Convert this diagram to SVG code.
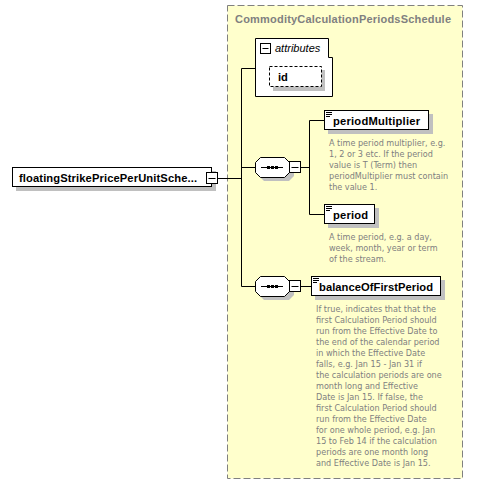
<svg xmlns="http://www.w3.org/2000/svg" width="504" height="485" viewBox="0 0 504 485">
<style>
.name{font-family:"Liberation Sans",Arial,sans-serif;font-weight:bold;font-size:11.2px;fill:#000}
.desc{font-family:"DejaVu Sans Condensed","DejaVu Sans",sans-serif;font-size:9px;fill:#808080}
.box{fill:#fff;stroke:#000;stroke-width:1}
.shadow{fill:#c0c0c0}
.ln{stroke:#000;stroke-width:1;fill:none}
</style>
<rect width="504" height="485" fill="#fff"/>
<g id="CommodityCalculationPeriodsSchedule">
<rect x="227.5" y="5.5" width="235" height="473" fill="#ffffcc" stroke="#808080" stroke-dasharray="7,3"/>
<text x="235" y="23" font-family="Liberation Sans,Arial,sans-serif" font-weight="bold" font-size="11" fill="#808080" textLength="216">CommodityCalculationPeriodsSchedule</text>
</g>
<g id="connectors">
<path class="ln" d="M217.5,178.5H241.5M241.5,68.5V286.5M241.5,68.5H255.5M241.5,167.5H255.5M241.5,286.5H255.5M301,167.5H309.5M309.5,120.5V214.5M309.5,120.5H324M309.5,214.5H324M301,286.5H311"/>
</g>
<g id="attributes">
<path d="M255.5,38.5H328.5V57.5H332.5V96.5H255.5Z" class="box"/>
<rect x="260.5" y="43.5" width="10" height="10" class="box"/>
<path class="ln" d="M262.5,48.5H268.5"/>
<text x="275" y="52" font-family="Liberation Sans,Arial,sans-serif" font-style="italic" font-size="11">attributes</text>
</g>
<g id="id">
<rect x="273" y="70" width="52" height="21" class="shadow"/>
<rect x="269.5" y="66.5" width="52" height="20" fill="#fff" stroke="#000" stroke-dasharray="3,2"/>
<text x="278" y="81" class="name">id</text>
</g>
<g id="floatingStrikePricePerUnitSchedule">
<rect x="16" y="171" width="200" height="20" class="shadow"/>
<rect x="12.5" y="167.5" width="199" height="19" class="box"/>
<text x="19" y="182" class="name" textLength="178">floatingStrikePricePerUnitSche...</text>
<rect x="206.5" y="172.5" width="11" height="11" class="box"/>
<path class="ln" d="M208.5,178.5H215.5"/>
</g>
<g id="sequence1">
<path d="M264,161H289L294,166V176L289,181H264L259,176V166Z" class="shadow"/>
<path d="M260.5,157.5H284.5L289.5,162.5V172.5L284.5,177.5H260.5L255.5,172.5V162.5Z" class="box"/>
<path class="ln" d="M261,167.5H283"/>
<rect x="267" y="166" width="3" height="3"/><rect x="271" y="166" width="3" height="3"/><rect x="275" y="166" width="3" height="3"/>
<rect x="289.5" y="161.5" width="11" height="11" class="box"/>
<path class="ln" d="M291.5,167.5H298.5"/>
</g>
<g id="periodMultiplier">
<rect x="328" y="114" width="105" height="20" class="shadow"/>
<rect x="324.5" y="110.5" width="104" height="19" class="box"/>
<path class="ln" d="M326,112.5H332M326,114.5H332M326,116.5H330"/>
<text x="333" y="125" class="name" textLength="87">periodMultiplier</text>
<text class="desc"><tspan x="329" y="146">A time period multiplier, e.g.</tspan><tspan x="329" y="157">1, 2 or 3 etc. If the period</tspan><tspan x="329" y="168">value is T (Term) then</tspan><tspan x="329" y="179">periodMultiplier must contain</tspan><tspan x="329" y="190">the value 1.</tspan></text>
</g>
<g id="period">
<rect x="328" y="208" width="51" height="20" class="shadow"/>
<rect x="324.5" y="204.5" width="50" height="19" class="box"/>
<path class="ln" d="M326,206.5H332M326,208.5H332M326,210.5H330"/>
<text x="333" y="219" class="name" textLength="35">period</text>
<text class="desc"><tspan x="329" y="240">A time period, e.g. a day,</tspan><tspan x="329" y="251">week, month, year or term</tspan><tspan x="329" y="262">of the stream.</tspan></text>
</g>
<g id="sequence2">
<path d="M264,280H289L294,285V295L289,300H264L259,295V285Z" class="shadow"/>
<path d="M260.5,276.5H284.5L289.5,281.5V291.5L284.5,296.5H260.5L255.5,291.5V281.5Z" class="box"/>
<path class="ln" d="M261,286.5H283"/>
<rect x="267" y="285" width="3" height="3"/><rect x="271" y="285" width="3" height="3"/><rect x="275" y="285" width="3" height="3"/>
<rect x="289.5" y="280.5" width="11" height="11" class="box"/>
<path class="ln" d="M291.5,286.5H298.5"/>
</g>
<g id="balanceOfFirstPeriod">
<rect x="315" y="280" width="130" height="20" class="shadow"/>
<rect x="311.5" y="276.5" width="129" height="19" class="box"/>
<path class="ln" d="M313,278.5H319M313,280.5H319M313,282.5H317"/>
<text x="319" y="291" class="name" textLength="114">balanceOfFirstPeriod</text>
<text class="desc"><tspan x="316" y="312">If true, indicates that that the</tspan><tspan x="316" y="323">first Calculation Period should</tspan><tspan x="316" y="334">run from the Effective Date to</tspan><tspan x="316" y="345">the end of the calendar period</tspan><tspan x="316" y="356">in which the Effective Date</tspan><tspan x="316" y="367">falls, e.g. Jan 15 - Jan 31 if</tspan><tspan x="316" y="378">the calculation periods are one</tspan><tspan x="316" y="389">month long and Effective</tspan><tspan x="316" y="400">Date is Jan 15. If false, the</tspan><tspan x="316" y="411">first Calculation Period should</tspan><tspan x="316" y="422">run from the Effective Date</tspan><tspan x="316" y="433">for one whole period, e.g. Jan</tspan><tspan x="316" y="444">15 to Feb 14 if the calculation</tspan><tspan x="316" y="455">periods are one month long</tspan><tspan x="316" y="466">and Effective Date is Jan 15.</tspan></text>
</g>
</svg>
